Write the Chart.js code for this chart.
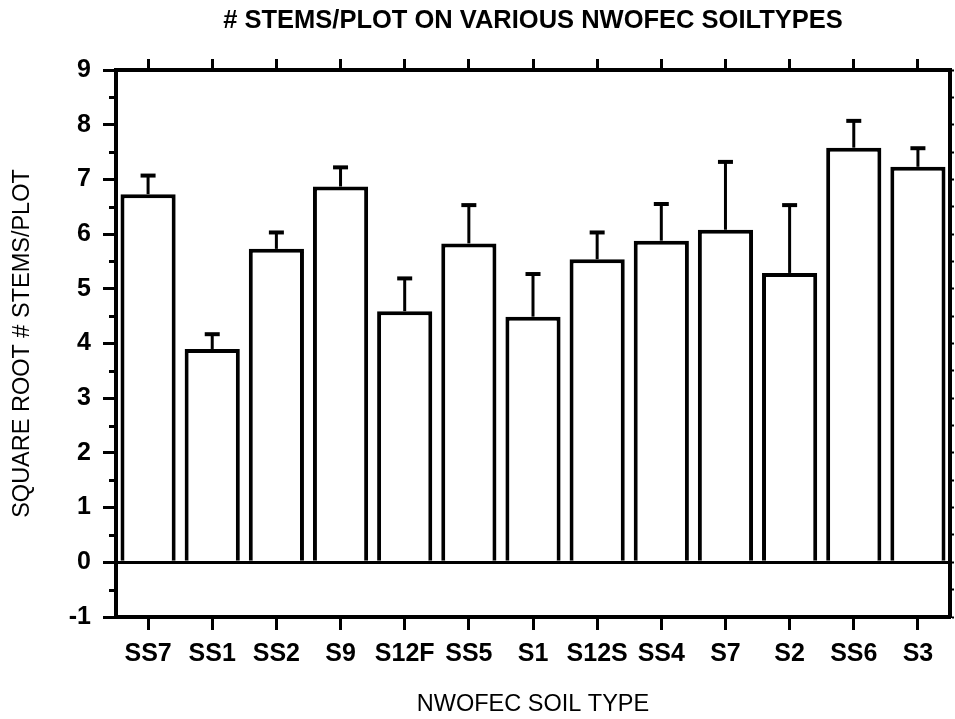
<!DOCTYPE html>
<html>
<head>
<meta charset="utf-8">
<script src="https://cdn.jsdelivr.net/npm/chart.js@4/dist/chart.umd.min.js"></script>
<style>
  html, body { margin: 0; padding: 0; background: #fff; }
  canvas { display: block; }
</style>
</head>
<body>
<canvas id="chart" width="955" height="719"></canvas>
<script>
// soil types along the x axis
const soilTypes = ['SS7', 'SS1', 'SS2', 'S9', 'S12F', 'SS5', 'S1', 'S12S', 'SS4', 'S7', 'S2', 'SS6', 'S3'];
// mean square root of stems per plot
const meanStems = [6.73, 3.90, 5.73, 6.87, 4.59, 5.83, 4.49, 5.54, 5.88, 6.08, 5.29, 7.58, 7.23];
// upper error (standard error) above each mean
const stemErrors = [0.34, 0.27, 0.30, 0.35, 0.60, 0.70, 0.78, 0.49, 0.67, 1.24, 1.24, 0.49, 0.34];
// y axis range
const yMin = -1;
const yMax = 9;

const FONT = '"Liberation Sans", Arial, Helvetica, sans-serif';

// upper error bars on top of each bar
const errorBars = {
  id: 'errorBars',
  afterDatasetsDraw(chart) {
    const ctx = chart.ctx;
    const y = chart.scales.y;
    const meta = chart.getDatasetMeta(0);
    ctx.save();
    ctx.strokeStyle = '#000';
    meta.data.forEach((bar, i) => {
      const top = y.getPixelForValue(meanStems[i]);
      const hi = y.getPixelForValue(meanStems[i] + stemErrors[i]);
      ctx.lineWidth = 3;
      ctx.beginPath();
      ctx.moveTo(bar.x, top);
      ctx.lineTo(bar.x, hi);
      ctx.stroke();
      ctx.lineWidth = 4;
      ctx.beginPath();
      ctx.moveTo(bar.x - 7.5, hi);
      ctx.lineTo(bar.x + 7.5, hi);
      ctx.stroke();
    });
    ctx.restore();
  }
};

// short half-unit ticks on the left axis
const minorTicks = {
  id: 'minorTicks',
  afterDraw(chart) {
    const ctx = chart.ctx;
    const y = chart.scales.y;
    const left = chart.chartArea.left;
    ctx.save();
    ctx.strokeStyle = '#000';
    ctx.lineWidth = 3;
    for (let v = yMin + 0.5; v < yMax; v += 1) {
      const py = Math.round(y.getPixelForValue(v)) + 0.5;
      ctx.beginPath();
      ctx.moveTo(left - 7, py);
      ctx.lineTo(left, py);
      ctx.stroke();
    }
    ctx.restore();
  }
};

new Chart(document.getElementById('chart'), {
  type: 'bar',
  data: {
    labels: soilTypes,
    datasets: [{
      data: meanStems,
      backgroundColor: '#fff',
      borderColor: '#000',
      borderWidth: 4,
      borderSkipped: 'start',
      categoryPercentage: 1,
      barPercentage: 0.86
    }]
  },
  options: {
    responsive: false,
    animation: false,
    layout: { padding: 0 },
    plugins: {
      legend: { display: false },
      tooltip: { enabled: false },
      title: {
        display: true,
        text: '# STEMS/PLOT ON VARIOUS NWOFEC SOILTYPES',
        color: '#000',
        fullSize: false,
        font: { family: FONT, size: 25.5, weight: 'bold' },
        padding: { top: 6, bottom: 17.4 }
      }
    },
    scales: {
      x: {
        position: 'bottom',
        offset: true,
        afterFit: s => { s.height = 102; },
        border: { color: '#000', width: 4 },
        grid: { offset: false, drawOnChartArea: false, tickLength: 13, tickWidth: 3, tickColor: '#000' },
        ticks: {
          color: '#000', padding: 9, autoSkip: false, maxRotation: 0, minRotation: 0,
          font: { family: FONT, size: 25, weight: 'bold' }
        },
        title: {
          display: true,
          text: 'NWOFEC SOIL TYPE',
          color: '#000',
          font: { family: FONT, size: 23.5 },
          padding: { top: 0, bottom: 0 }
        }
      },
      x2: {
        type: 'category',
        position: 'top',
        labels: soilTypes,
        offset: true,
        afterFit: s => { s.height = 16; },
        border: { color: '#000', width: 4 },
        grid: { offset: false, drawOnChartArea: false, tickLength: 11, tickWidth: 3, tickColor: '#000' },
        ticks: { display: false, autoSkip: false }
      },
      y: {
        position: 'left',
        min: yMin,
        max: yMax,
        afterFit: s => { s.width = 116; },
        border: { color: '#000', width: 4 },
        grid: {
          color: ctx => ctx.tick && ctx.tick.value === 0 ? '#000' : 'rgba(0,0,0,0)',
          lineWidth: 3,
          tickLength: 13,
          tickWidth: 3,
          tickColor: '#000'
        },
        ticks: { stepSize: 1, color: '#000', padding: 12, font: { family: FONT, size: 25, weight: 'bold' } },
        title: {
          display: true,
          text: 'SQUARE ROOT # STEMS/PLOT',
          color: '#000',
          font: { family: FONT, size: 23.5 },
          padding: { top: 8, bottom: 0 }
        }
      },
      y2: {
        position: 'right',
        min: yMin,
        max: yMax,
        afterFit: s => { s.width = 5; },
        border: { color: '#000', width: 4 },
        grid: { drawOnChartArea: false, tickLength: 4, tickWidth: 2, tickColor: '#000' },
        ticks: { display: false, stepSize: 0.5 }
      }
    }
  },
  plugins: [errorBars, minorTicks]
});
</script>
</body>
</html>
